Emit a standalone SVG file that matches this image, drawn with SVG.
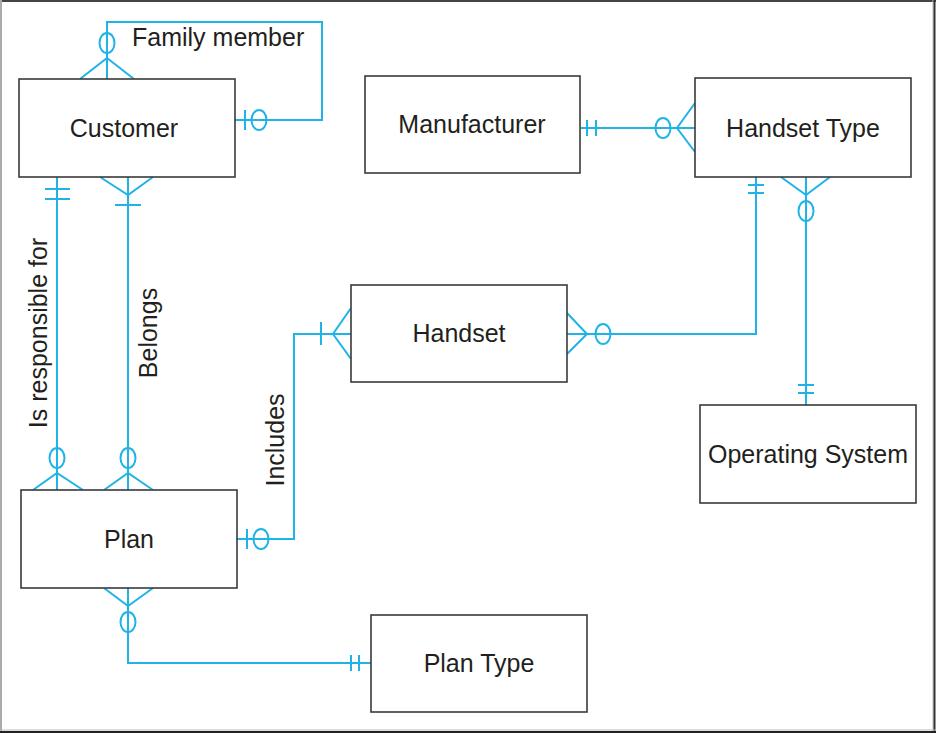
<svg xmlns="http://www.w3.org/2000/svg" width="936" height="733" viewBox="0 0 936 733">
<style>
.box{fill:#fff;stroke:#3a3a3a;stroke-width:1.6}
.t{font-family:"Liberation Sans",Arial,sans-serif;font-size:25px;fill:#231f20;text-anchor:middle}
.c{fill:none;stroke:#1fb3e8;stroke-width:2}
</style>
<rect x="0" y="0" width="936" height="733" fill="#fff"/>
<line x1="0" y1="1" x2="936" y2="1" stroke="#444" stroke-width="2"/>
<line x1="1" y1="0" x2="1" y2="733" stroke="#aaa" stroke-width="2"/>
<line x1="933" y1="0" x2="933" y2="733" stroke="#bbb" stroke-width="1"/>
<line x1="934.5" y1="0" x2="934.5" y2="733" stroke="#333" stroke-width="2"/>
<line x1="0" y1="730" x2="936" y2="730" stroke="#bbb" stroke-width="1"/>
<line x1="0" y1="732" x2="936" y2="732" stroke="#222" stroke-width="2"/>

<g id="connectors" class="c">
  <!-- Family member -->
  <path d="M107,79 V22 H322 V120 H235"/>
  <path d="M80,79 L107,58 L134,79"/>
  <ellipse cx="107" cy="43" rx="7.5" ry="10"/>
  <line x1="245" y1="110" x2="245" y2="130"/>
  <ellipse cx="259" cy="120" rx="7.5" ry="10"/>
  <!-- Manufacturer - Handset Type -->
  <line x1="581" y1="128" x2="695" y2="128"/>
  <line x1="587" y1="120" x2="587" y2="136"/>
  <line x1="596" y1="120" x2="596" y2="136"/>
  <ellipse cx="663" cy="128" rx="7.5" ry="10"/>
  <path d="M695,103 L677,128 L695,152"/>
  <!-- Handset Type - Handset -->
  <path d="M756,177 V334 H567"/>
  <line x1="748" y1="185" x2="764" y2="185"/>
  <line x1="748" y1="193" x2="764" y2="193"/>
  <path d="M567,313 L587,334 L567,354"/>
  <ellipse cx="603" cy="334" rx="7.5" ry="10"/>
  <!-- Handset Type - Operating System -->
  <line x1="806" y1="177" x2="806" y2="405"/>
  <path d="M781,177 L806,195 L830,177"/>
  <ellipse cx="806" cy="211" rx="7.5" ry="10"/>
  <line x1="798" y1="385" x2="814" y2="385"/>
  <line x1="798" y1="393" x2="814" y2="393"/>
  <!-- Is responsible for -->
  <line x1="57" y1="177" x2="57" y2="490"/>
  <line x1="45" y1="189" x2="70" y2="189"/>
  <line x1="45" y1="199" x2="70" y2="199"/>
  <ellipse cx="57" cy="458" rx="7.5" ry="10"/>
  <path d="M33,490 L57,473 L83,490"/>
  <!-- Belongs -->
  <line x1="128" y1="177" x2="128" y2="490"/>
  <path d="M100,177 L128,195 L153,177"/>
  <line x1="115" y1="205" x2="141" y2="205"/>
  <ellipse cx="128" cy="458" rx="7.5" ry="10"/>
  <path d="M104,490 L128,473 L153,490"/>
  <!-- Includes -->
  <path d="M237,539 H294 V334 H351"/>
  <line x1="247" y1="529" x2="247" y2="549"/>
  <ellipse cx="261" cy="539" rx="7.5" ry="10"/>
  <line x1="321" y1="322" x2="321" y2="345"/>
  <path d="M351,308 L333,334 L351,359"/>
  <!-- Plan - Plan Type -->
  <path d="M128,588 V663 H371"/>
  <path d="M104,588 L128,606 L153,588"/>
  <ellipse cx="128" cy="622" rx="7.5" ry="10"/>
  <line x1="351" y1="655" x2="351" y2="671"/>
  <line x1="359" y1="655" x2="359" y2="671"/>
</g>

<g id="labels">
  <text class="t" x="132" y="46" style="text-anchor:start">Family member</text>
  <text class="t" transform="translate(47,333) rotate(-90)">Is responsible for</text>
  <text class="t" transform="translate(157,333) rotate(-90)">Belongs</text>
  <text class="t" transform="translate(284,440) rotate(-90)">Includes</text>
</g>

<g id="customer"><rect class="box" x="19" y="79" width="216" height="98"/><text class="t" x="124" y="137">Customer</text></g>
<g id="manufacturer"><rect class="box" x="365" y="76" width="215" height="97"/><text class="t" x="472" y="133">Manufacturer</text></g>
<g id="handset-type"><rect class="box" x="695" y="78" width="216" height="99"/><text class="t" x="803" y="137">Handset Type</text></g>
<g id="handset"><rect class="box" x="351" y="285" width="216" height="97"/><text class="t" x="459" y="342">Handset</text></g>
<g id="operating-system"><rect class="box" x="700" y="405" width="216" height="98"/><text class="t" x="808" y="463">Operating System</text></g>
<g id="plan"><rect class="box" x="21" y="490" width="216" height="98"/><text class="t" x="129" y="548">Plan</text></g>
<g id="plan-type"><rect class="box" x="371" y="615" width="216" height="97"/><text class="t" x="479" y="672">Plan Type</text></g>
</svg>
